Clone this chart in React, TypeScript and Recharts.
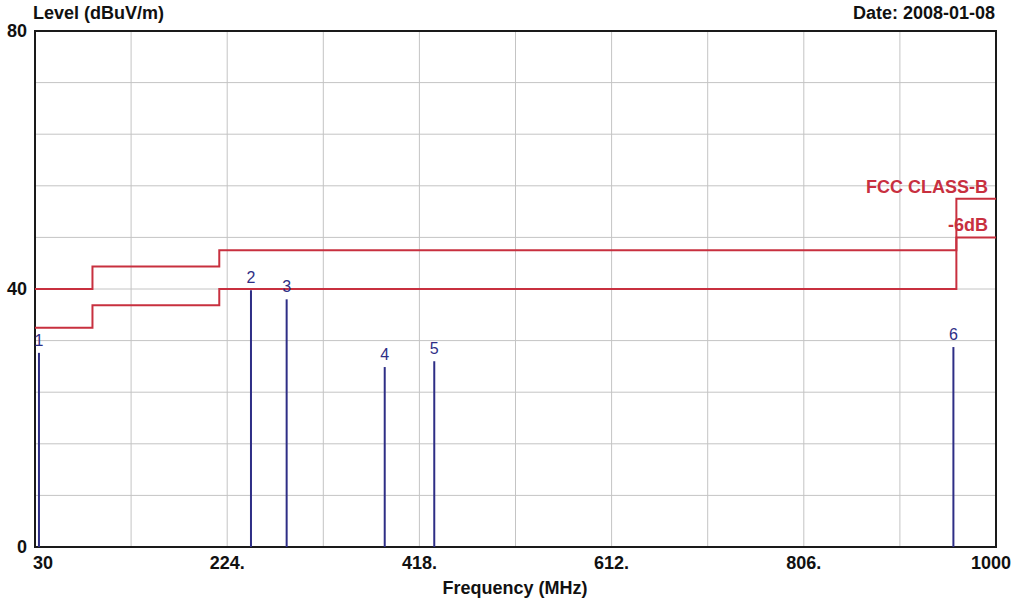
import { ComposedChart, Line, XAxis, YAxis, CartesianGrid, ReferenceLine, ReferenceArea } from 'recharts';

// frequency axis (MHz): grid every 97, labels every 194
const xGridTicks = [30, 127, 224, 321, 418, 515, 612, 709, 806, 903, 1000];
const xTickLabels: Record<number, string> = { 30: '30', 224: '224.', 418: '418.', 612: '612.', 806: '806.', 1000: '1000' };

// level axis (dBuV/m)
const yGridTicks = [0, 8, 16, 24, 32, 40, 48, 56, 64, 72, 80];
const yTickLabels: Record<number, string> = { 0: '0', 40: '40', 80: '80' };

// FCC class B limit and the -6dB margin line
const limitFreq = [30, 88, 216, 960, 1000];
const limitLevel = [40, 43.5, 46, 54, 54];
const marginLevel = [34, 37.5, 40, 48, 48];

// measured peaks
const peakNames = ['1', '2', '3', '4', '5', '6'];
const peakFreq = [34, 248, 284, 383, 433, 957];
const peakLevel = [30.1, 39.8, 38.4, 27.9, 28.8, 31.0];

const limitData = limitFreq.map((f, i) => ({ freq: f, level: limitLevel[i] }));
const marginData = limitFreq.map((f, i) => ({ freq: f, level: marginLevel[i] }));

const FONT = '"Liberation Sans", Arial, sans-serif';
const RED = '#c8303f';
const NAVY = '#2e2e86';

const XTick = (props: any) => {
  const { x, y, payload } = props;
  const text = xTickLabels[payload.value];
  if (!text) return null;
  let anchor = 'middle';
  let dx = 0;
  if (payload.value === 30) { anchor = 'start'; dx = -2; }
  if (payload.value === 1000) { anchor = 'end'; dx = 15; }
  return (
    <text x={x + dx} y={y + 22} textAnchor={anchor} fontFamily={FONT} fontWeight="bold" fontSize={18} fill="#111">
      {text}
    </text>
  );
};

const YTick = (props: any) => {
  const { x, y, payload } = props;
  const text = yTickLabels[payload.value];
  if (!text) return null;
  return (
    <text x={x - 8} y={y + 6} textAnchor="end" fontFamily={FONT} fontWeight="bold" fontSize={18} fill="#111">
      {text}
    </text>
  );
};

const endLabel = (text: string, last: number) => (props: any) => {
  const { x, y, index } = props;
  if (index !== last) return null;
  return (
    <text x={x - 8} y={y - 6} textAnchor="end" fontFamily={FONT} fontWeight="bold" fontSize={18} fill={RED}>
      {text}
    </text>
  );
};

export default function App() {
  return (
    <div style={{ position: 'absolute', left: 0, top: 0, width: 1013, height: 600, background: '#fff' }}>
      <div style={{ position: 'absolute', left: 33, top: 4, fontFamily: FONT, fontWeight: 'bold', fontSize: 18, lineHeight: '18px', color: '#111' }}>
        Level (dBuV/m)
      </div>
      <div style={{ position: 'absolute', right: 18, top: 4, fontFamily: FONT, fontWeight: 'bold', fontSize: 18, lineHeight: '18px', color: '#111' }}>
        Date: 2008-01-08
      </div>
      <ComposedChart width={1013} height={600} margin={{ top: 31, right: 17, bottom: 23, left: 0 }}>
        <CartesianGrid stroke="#c4c4c4" strokeWidth={1} />
        <XAxis
          type="number"
          dataKey="freq"
          domain={[30, 1000]}
          ticks={xGridTicks}
          interval={0}
          height={30}
          tickSize={0}
          tickMargin={0}
          axisLine={false}
          tickLine={false}
          tick={<XTick />}
          allowDataOverflow
        />
        <YAxis
          type="number"
          domain={[0, 80]}
          ticks={yGridTicks}
          interval={0}
          width={35}
          tickSize={0}
          tickMargin={0}
          axisLine={false}
          tickLine={false}
          tick={<YTick />}
          allowDataOverflow
        />
        <ReferenceArea x1={30} x2={1000} y1={0} y2={80} fill="none" fillOpacity={0} stroke="#1a1a1a" strokeWidth={2} />
        <Line
          data={limitData}
          dataKey="level"
          type="stepAfter"
          stroke={RED}
          strokeWidth={2}
          dot={false}
          isAnimationActive={false}
          label={endLabel('FCC CLASS-B', limitData.length - 1)}
        />
        <Line
          data={marginData}
          dataKey="level"
          type="stepAfter"
          stroke={RED}
          strokeWidth={2}
          dot={false}
          isAnimationActive={false}
          label={endLabel('-6dB', marginData.length - 1)}
        />
        {peakFreq.map((f, i) => (
          <ReferenceLine
            key={peakNames[i]}
            segment={[{ x: f, y: 0 }, { x: f, y: peakLevel[i] }]}
            stroke={NAVY}
            strokeWidth={2}
            label={{ value: peakNames[i], position: 'top', offset: 7, fill: NAVY, fontSize: 16, fontFamily: FONT }}
          />
        ))}
      </ComposedChart>
      <div style={{ position: 'absolute', left: 415, width: 200, top: 579, textAlign: 'center', fontFamily: FONT, fontWeight: 'bold', fontSize: 18, lineHeight: '18px', color: '#111' }}>
        Frequency (MHz)
      </div>
    </div>
  );
}
